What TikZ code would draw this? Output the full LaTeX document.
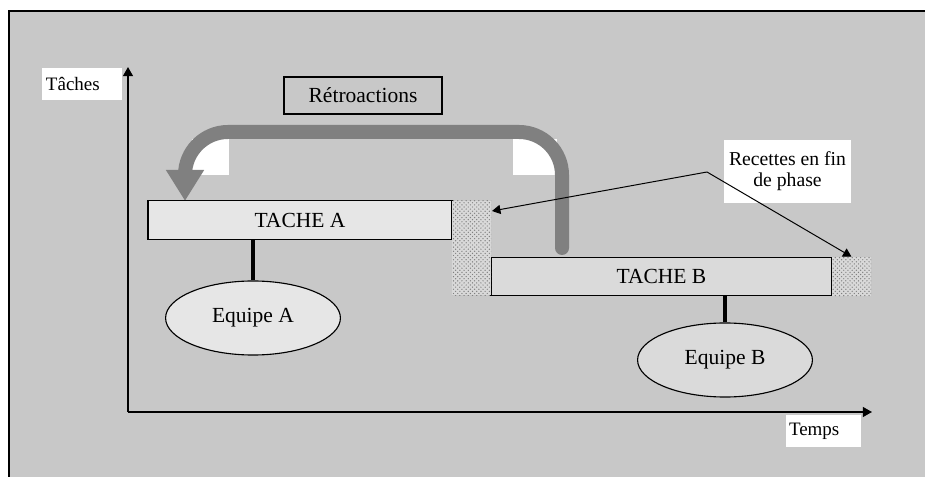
\documentclass[tikz,border=0pt]{standalone}
\usepackage{fontspec}
\setmainfont{Liberation Serif}
\usetikzlibrary{arrows.meta,shapes.geometric,patterns}
\definecolor{bggray}{HTML}{C8C8C8}
\definecolor{fbgray}{HTML}{808080}
\definecolor{taskAfill}{HTML}{E6E6E6}
\definecolor{taskBfill}{HTML}{DADADA}
\begin{document}
\begin{tikzpicture}[x=0.025cm,y=-0.025cm,
  task/.style={draw, line width=0.8pt, minimum height=0.96cm, inner sep=0pt, font=\fontsize{15.3}{18}\selectfont},
  team/.style={draw, ellipse, line width=0.8pt, minimum width=4.37cm, minimum height=1.85cm, inner sep=0pt, font=\fontsize{15.3}{18}\selectfont},
  hatchbox/.style={inner sep=0pt, preaction={fill=gray!30}, pattern=crosshatch dots, pattern color=gray},
  whitelabel/.style={fill=white, inner sep=0pt, font=\fontsize{13.5}{15}\selectfont},
  axis/.style={line width=1.2pt, -{Triangle[length=6.5pt,width=7pt]}},
  feedback/.style={draw=fbgray, line width=0.35cm, rounded corners=1.075cm, line cap=round, -{Triangle[length=0.775cm,width=0.9cm]}},
  pointer/.style={line width=0.7pt, -{Triangle[length=6pt,width=6.5pt]}},
  link/.style={line width=2.5pt}]
\useasboundingbox (0,0) rectangle (925,477);
% frame
\fill[bggray] (9,11) rectangle (925,477);
\draw[line width=0.8pt] (9,477) -- (9,11) -- (925,11);

% axes
\coordinate (origin) at (128,412);
\coordinate (ytip) at (128,67);
\coordinate (xtip) at (872,412);
\draw[axis] (origin) -- (ytip);
\draw[axis] (origin) -- (xtip);
\node[whitelabel, minimum width=2cm, minimum height=0.8cm, text width=1.8cm, inner xsep=0.1cm, align=left] (taches) at (82,84) {Tâches};
\node[whitelabel, minimum width=1.875cm, minimum height=0.8cm, text width=1.725cm, inner xsep=0.075cm, align=left] (temps) at (823.5,431) {Temps};

% feedback loop
\node[draw, line width=0.8pt, minimum width=3.95cm, minimum height=0.925cm, inner sep=0pt, font=\fontsize{15.3}{18}\selectfont] (retro) at (363,95.5) {Rétroactions};
\fill[white] (192,139) rectangle (229,175);
\fill[white] (513,139) rectangle (557,175);
\coordinate (fbstart) at (562,248);
\coordinate (fbend) at (185,201);
\draw[feedback] (fbstart) -- (562,132) -- (185,132) -- (fbend);

% tasks
\node[task, fill=taskAfill, minimum width=7.6cm] (tacheA) at (300,220) {TACHE A};
\node[task, fill=taskBfill, minimum width=8.525cm] (tacheB) at (661.5,276.5) {TACHE B};
\node[hatchbox, minimum width=0.975cm, minimum height=2.35cm] (hatchA) at (471.5,248) {};
\node[hatchbox, minimum width=0.975cm, minimum height=0.975cm] (hatchB) at (851.5,276.5) {};

% teams
\node[team, fill=taskAfill] (equipeA) at (253,318) {Equipe A};
\node[team, fill=taskBfill] (equipeB) at (725,360) {Equipe B};
\draw[link] (tacheA.south -| equipeA.north) -- (equipeA.north);
\draw[link] (tacheB.south -| equipeB.north) -- (equipeB.north);

% end of phase
\node[fill=white, inner sep=0pt, minimum width=3.175cm, minimum height=1.575cm, align=center, font=\fontsize{14}{15}\selectfont] (recettes) at (787.5,171.5) {Recettes en fin\\de phase};
\coordinate (recv) at (707,172);
\coordinate (hatchAin) at (492,211);
\draw[pointer] (recv) -- (hatchAin);
\draw[pointer] (recv) -- (hatchB.north);
\end{tikzpicture}
\end{document}
